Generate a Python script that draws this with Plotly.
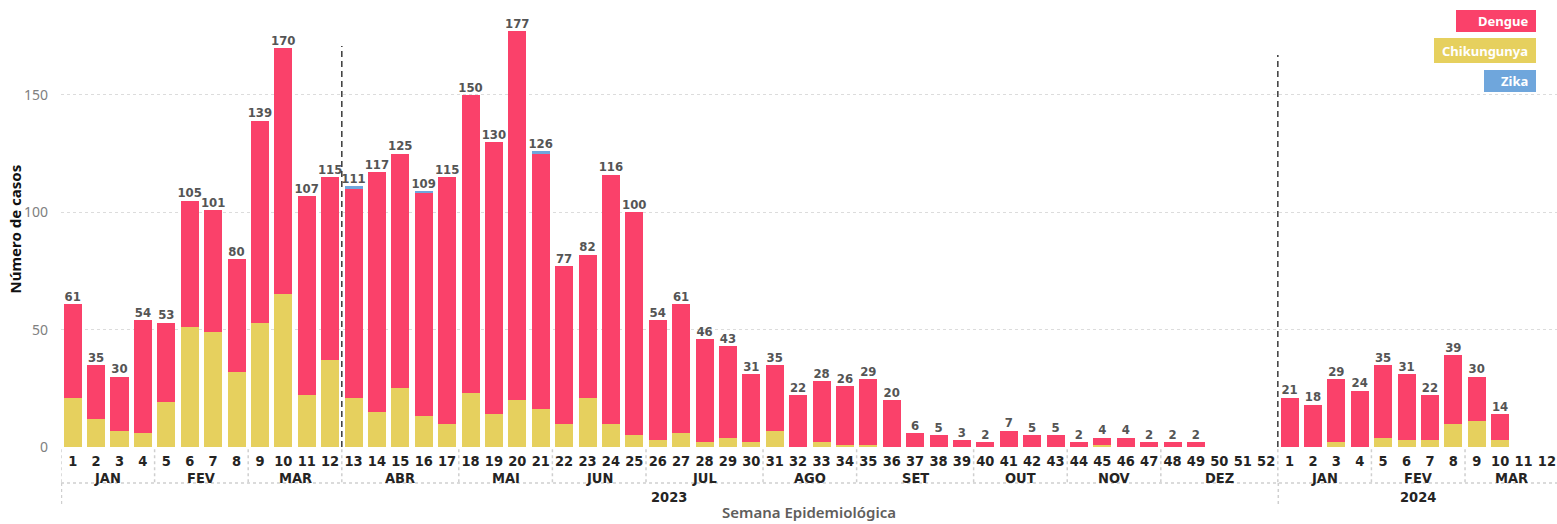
import plotly.graph_objects as go

# ---- data -------------------------------------------------------------
weeks_2023 = list(range(1, 53))
weeks_2024 = list(range(1, 13))

dengue_2023 = [40, 23, 23, 48, 34, 54, 52, 48, 86, 105,
               85, 78, 89, 102, 100, 95, 105, 127, 116, 157,
               109, 67, 61, 106, 95, 51, 55, 44, 39, 29,
               28, 22, 26, 25, 28, 20, 6, 5, 3, 2,
               7, 5, 5, 2, 3, 4, 2, 2, 2, 0, 0, 0]
chik_2023 = [21, 12, 7, 6, 19, 51, 49, 32, 53, 65,
             22, 37, 21, 15, 25, 13, 10, 23, 14, 20,
             16, 10, 21, 10, 5, 3, 6, 2, 4, 2,
             7, 0, 2, 1, 1, 0, 0, 0, 0, 0,
             0, 0, 0, 0, 1, 0, 0, 0, 0, 0, 0, 0]
zika_2023 = [0, 0, 0, 0, 0, 0, 0, 0, 0, 0,
             0, 0, 1, 0, 0, 1, 0, 0, 0, 0,
             1, 0, 0, 0, 0, 0, 0, 0, 0, 0,
             0, 0, 0, 0, 0, 0, 0, 0, 0, 0,
             0, 0, 0, 0, 0, 0, 0, 0, 0, 0, 0, 0]

dengue_2024 = [21, 18, 27, 24, 31, 28, 19, 29, 19, 11, 0, 0]
chik_2024 = [0, 0, 2, 0, 4, 3, 3, 10, 11, 3, 0, 0]
zika_2024 = [0, 0, 0, 0, 0, 0, 0, 0, 0, 0, 0, 0]

months_2023 = ["JAN", "FEV", "MAR", "ABR", "MAI", "JUN",
               "JUL", "AGO", "SET", "OUT", "NOV", "DEZ"]
month_len_2023 = [4, 4, 4, 5, 4, 4, 5, 4, 5, 4, 4, 5]
months_2024 = ["JAN", "FEV", "MAR"]
month_len_2024 = [4, 4, 4]
years = ["2023", "2024"]

series_names = ["Dengue", "Chikungunya", "Zika"]
series_colors = ["#FA416A", "#E6D05E", "#6FA6DC"]

# ---- derived ----------------------------------------------------------
week_labels = [str(w) for w in weeks_2023 + weeks_2024]
idx = list(range(len(week_labels)))
dengue = dengue_2023 + dengue_2024
chik = chik_2023 + chik_2024
zika = zika_2023 + zika_2024
totals = [d + c + z for d, c, z in zip(dengue, chik, zika)]

COND = "DejaVu Sans Condensed, Roboto, sans-serif"
SANS = "Noto Sans, Open Sans, sans-serif"

fig = go.Figure()
for name, vals, col in [("Chikungunya", chik, series_colors[1]),
                        ("Dengue", dengue, series_colors[0]),
                        ("Zika", zika, series_colors[2])]:
    fig.add_trace(go.Bar(x=idx, y=vals, name=name, marker_color=col,
                         marker_line_width=0, hoverinfo="x+y+name"))

fig.add_trace(go.Scatter(
    x=idx, y=totals, mode="text",
    text=[str(t) if t > 0 else "" for t in totals],
    textposition="top center",
    textfont=dict(family=COND, size=13, color="#555555", weight="bold"),
    cliponaxis=False, showlegend=False, hoverinfo="skip"))

shapes = []
annotations = []

# dotted category frame under the axis
dot = dict(color="#cfcfcf", width=1.5, dash="dot")
row1, row2 = -0.083, -0.138
lab_font = dict(family=COND, size=14.5, color="#252423", weight="bold")


def month_block(names, lengths, start, year_label):
    pos = start
    for nm, ln in zip(names, lengths):
        annotations.append(dict(x=pos + (ln - 1) / 2, y=0, xref="x", yref="paper",
                                yshift=-30.5, text=nm, showarrow=False,
                                yanchor="middle", font=lab_font))
        shapes.append(dict(type="line", xref="x", yref="paper",
                           x0=pos - 0.5, x1=pos - 0.5, y0=-0.005, y1=row1, line=dot))
        pos += ln
    annotations.append(dict(x=start + (pos - start - 1) / 2, y=0, xref="x",
                            yref="paper", yshift=-49.5, text=year_label,
                            showarrow=False, yanchor="middle", font=lab_font))
    shapes.append(dict(type="line", xref="x", yref="paper",
                       x0=start - 0.48, x1=start - 0.48, y0=row1, y1=row2, line=dot))
    return pos


nxt = month_block(months_2023, month_len_2023, 0, years[0])
month_block(months_2024, month_len_2024, nxt, years[1])
shapes.append(dict(type="line", xref="x", yref="paper", x0=-0.5, x1=len(idx) - 0.5,
                   y0=row1, y1=row1, line=dot))

# dashed markers
for xb, top in [(11.5, 170.8), (51.5, 167.0)]:
    shapes.append(dict(type="line", xref="x", yref="y", x0=xb, x1=xb, y0=0, y1=top,
                       line=dict(color="#3a3a3a", width=1.5, dash="6px,4px")))

# axis titles
annotations.append(dict(x=0.5, y=0, xref="paper", yref="paper", yshift=-65,
                        text="Semana Epidemiológica", showarrow=False,
                        yanchor="middle",
                        font=dict(family=SANS, size=15, color="#605E5C",
                                  weight=600)))
annotations.append(dict(x=0, y=0.5, xref="paper", yref="paper", xshift=-47,
                        text="Número de casos", showarrow=False, textangle=-90,
                        xanchor="center", yanchor="middle",
                        font=dict(family=SANS, size=15, color="#111111",
                                  weight="bold")))

# legend chips (top right)
W, H, L, T = 1557, 524, 61, 12
PW, PH = W - L, 435


def px(xp):
    return (xp - L) / PW


def py(yp):
    return (T + PH - yp) / PH


chips = [(series_names[0], series_colors[0], 1456, 10, 32),
         (series_names[1], series_colors[1], 1434, 38, 63),
         (series_names[2], series_colors[2], 1484, 70, 92)]
for nm, col, x0, y0, y1 in chips:
    shapes.append(dict(type="rect", xref="paper", yref="paper",
                       x0=px(x0), x1=px(1536), y0=py(y1), y1=py(y0),
                       fillcolor=col, line_width=0, layer="above"))
    annotations.append(dict(x=px(1530), y=py((y0 + y1) / 2), xref="paper",
                            yref="paper", text=nm, showarrow=False,
                            xanchor="right", yanchor="middle",
                            font=dict(family=SANS, size=13, color="white",
                                      weight="bold")))

fig.update_layout(
    width=W, height=H,
    margin=dict(l=L, r=0, t=T, b=H - T - PH),
    barmode="stack", bargap=0.23,
    plot_bgcolor="white", paper_bgcolor="white",
    showlegend=False,
    shapes=shapes, annotations=annotations,
    xaxis=dict(range=[-0.5, 63.43], tickmode="array", tickvals=idx,
               ticktext=week_labels, showgrid=False, zeroline=False,
               showline=False, ticks="", ticklabelstandoff=3,
               tickfont=lab_font),
    yaxis=dict(range=[0, 185.3], tickvals=[0, 50, 100, 150], showgrid=True,
               gridcolor="#dcdcdc", griddash="dot", gridwidth=1,
               zeroline=False, showline=False, ticks="", ticklabelstandoff=12,
               tickfont=dict(family=SANS, size=14, color="#808080")),
)

fig.write_html("out.html")
